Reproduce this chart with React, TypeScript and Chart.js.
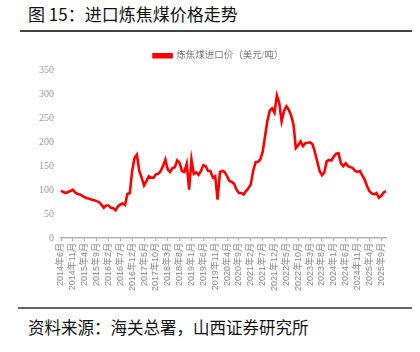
import React, { useEffect, useRef } from "react";
import { Chart, registerables } from "chart.js";

Chart.register(...registerables);

const startYear = 2014;
const startMonth = 6;
const seriesName = "炼焦煤进口价（美元/吨）";
const yTicks = [0, 50, 100, 150, 200, 250, 300, 350];

const prices: number[] = [
  99, 96, 94, 96, 98, 101, 95, 92, 91, 88,
  85, 83, 82, 80, 79, 77, 75, 70, 63, 68,
  68, 63, 62, 58, 66, 70, 72, 69, 92, 94,
  140, 167, 174, 140, 126, 110, 119, 129, 126, 126,
  133, 134, 140, 150, 164, 143, 138, 146, 148, 162,
  157, 140, 138, 155, 101, 164, 134, 137, 132, 140,
  152, 150, 140, 140, 126, 129, 80, 138, 140, 138,
  129, 119, 117, 113, 101, 94, 94, 91, 98, 104,
  112, 140, 158, 159, 164, 180, 212, 245, 266, 271,
  262, 298, 282, 244, 265, 275, 268, 256, 237, 188,
  194, 202, 192, 198, 199, 200, 196, 180, 160, 140,
  131, 137, 160, 163, 162, 170, 176, 177, 156, 150,
  156, 150, 148, 146, 140, 138, 140, 131, 122, 108,
  98, 93, 91, 94, 84, 88, 95, 98,
];

const months: string[] = prices.map((_, i) => {
  const m = startMonth - 1 + i;
  return `${startYear + Math.floor(m / 12)}年${(m % 12) + 1}月`;
});

const legendShift = {
  id: "legendShift",
  afterLayout(chart: any) {
    if (chart.legend) {
      chart.legend.left += 6;
      chart.legend.right += 6;
    }
  },
};

export default function App() {
  const ref = useRef<HTMLCanvasElement | null>(null);

  useEffect(() => {
    if (!ref.current) return;
    const chart = new Chart(ref.current, {
      type: "line",
      data: {
        labels: months,
        datasets: [
          {
            label: seriesName,
            data: prices,
            borderColor: "#ff0000",
            backgroundColor: "#ff0000",
            borderWidth: 2.6,
            pointRadius: 0,
            tension: 0,
          },
        ],
      },
      plugins: [legendShift],
      options: {
        animation: false,
        responsive: false,
        maintainAspectRatio: false,
        layout: { padding: { left: 39, right: 34, top: 5, bottom: 0 } },
        plugins: {
          legend: {
            display: true,
            position: "top",
            labels: {
              boxWidth: 18,
              boxHeight: 3,
              padding: 3,
              color: "#777",
              font: { family: "'Liberation Serif', 'Noto Sans CJK SC'", size: 9.5 },
            },
          },
          tooltip: { enabled: false },
        },
        scales: {
          x: {
            type: "category",
            offset: false,
            grid: {
              display: true,
              drawOnChartArea: false,
              drawTicks: true,
              tickLength: 3,
              tickColor: (ctx: any) => (ctx.index % 5 === 0 ? "#aaa" : "transparent"),
            },
            border: { display: true, color: "#b0b0b0", width: 1.5 },
            ticks: {
              autoSkip: false,
              minRotation: 90,
              maxRotation: 90,
              padding: 2,
              color: "#888",
              font: { family: "'Liberation Sans', 'Noto Sans CJK SC'", size: 9 },
              callback: (_v: any, i: number) => (i % 5 === 0 ? months[i] : ""),
            },
          },
          y: {
            min: 0,
            max: 350,
            afterBuildTicks: (axis: any) => {
              axis.ticks = yTicks.map((v) => ({ value: v }));
            },
            afterFit: (axis: any) => {
              axis.width = 22;
            },
            grid: { display: false, drawTicks: false },
            border: { display: false },
            ticks: {
              padding: 7,
              color: "#999",
              font: { family: "'Liberation Serif', serif", size: 10 },
            },
          },
        },
      },
    });
    return () => chart.destroy();
  }, []);

  return (
    <div
      style={{
        position: "fixed",
        left: 0,
        top: 0,
        width: 420,
        height: 352,
        background: "#fff",
        overflow: "hidden",
      }}
    >
      <div
        style={{
          position: "absolute",
          left: 28,
          top: 3,
          fontFamily: "'Noto Sans CJK SC', sans-serif",
          fontSize: 17,
          fontWeight: 400,
          lineHeight: "22px",
          color: "#111",
          whiteSpace: "nowrap",
        }}
      >
        图 15：进口炼焦煤价格走势
      </div>
      <div
        style={{
          position: "absolute",
          left: 20,
          top: 30,
          width: 392,
          height: 1.5,
          background: "#444",
        }}
      />
      <canvas
        ref={ref}
        width={420}
        height={250}
        style={{ position: "absolute", left: 0, top: 43, width: 420, height: 250 }}
      />
      <div
        style={{
          position: "absolute",
          left: 18,
          top: 307,
          width: 394,
          height: 1.5,
          background: "#666",
        }}
      />
      <div
        style={{
          position: "absolute",
          left: 28,
          top: 316,
          fontFamily: "'Noto Sans CJK SC', sans-serif",
          fontSize: 16.5,
          lineHeight: "22px",
          color: "#111",
          whiteSpace: "nowrap",
        }}
      >
        资料来源：海关总署，山西证券研究所
      </div>
    </div>
  );
}
